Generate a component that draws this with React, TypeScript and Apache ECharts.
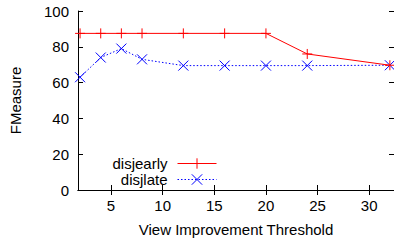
import React, { useEffect, useRef } from "react";
import * as echarts from "echarts";

const xValues = [2, 4, 6, 8, 12, 16, 20, 24, 32];
const disjearly = [87.5, 87.5, 87.5, 87.5, 87.5, 87.5, 87.5, 76, 69.7];
const disjlate = [63, 74, 79, 73, 69.5, 69.5, 69.5, 69.5, 69.7];
const xTicks = [5, 10, 15, 20, 25, 30];
const yTicks = [0, 20, 40, 60, 80, 100];

const FONT = "Liberation Sans, Arial, Helvetica, sans-serif";
const PLUS = "path://M0,5L10,5M5,0L5,10";
const CROSS = "path://M0,0L10,10M10,0L0,10";
const DOTS = [1.5, 2];

export default function App() {
  const ref = useRef<HTMLDivElement>(null);
  useEffect(() => {
    const chart = echarts.init(ref.current!, null, { renderer: "svg" });
    const axisCommon = {
      axisLine: { show: true, lineStyle: { color: "#000", width: 1 } },
      axisTick: { show: true, inside: true, length: 5, lineStyle: { color: "#000" } },
      splitLine: { show: false },
    };
    const legendCommon = {
      right: 177,
      padding: 0,
      align: "right",
      itemWidth: 39,
      itemHeight: 13,
      itemStyle: { borderWidth: 1 },
      textStyle: { color: "#000", fontSize: 15, fontFamily: FONT, padding: [0, 5, 0, 0] },
    };
    chart.setOption({
      animation: false,
      backgroundColor: "#fff",
      textStyle: { fontFamily: FONT },
      grid: { left: 77, right: 0, top: 11, bottom: 52, containLabel: false },
      xAxis: [
        {
          type: "value",
          min: 1.8,
          max: 32.4,
          position: "bottom",
          ...axisCommon,
          axisTick: { ...axisCommon.axisTick, customValues: xTicks },
          axisLabel: { customValues: xTicks, color: "#000", fontSize: 15, fontFamily: FONT, margin: 8 },
          name: "View Improvement Threshold",
          nameLocation: "middle",
          nameGap: 32,
          nameTextStyle: { color: "#000", fontSize: 15, fontFamily: FONT },
        },
        {
          type: "value",
          min: 1.8,
          max: 32.4,
          position: "top",
          ...axisCommon,
          axisTick: { ...axisCommon.axisTick, customValues: xTicks },
          axisLabel: { show: false, customValues: xTicks },
        },
      ],
      yAxis: [
        {
          type: "value",
          min: 0,
          max: 100,
          interval: 20,
          position: "left",
          ...axisCommon,
          axisLabel: { color: "#000", fontSize: 15, fontFamily: FONT, margin: 9 },
          name: "FMeasure",
          nameLocation: "middle",
          nameRotate: 90,
          nameGap: 55,
          nameTextStyle: { color: "#000", fontSize: 15, fontFamily: FONT },
        },
        {
          type: "value",
          min: 0,
          max: 100,
          interval: 20,
          position: "right",
          ...axisCommon,
          axisLabel: { show: false },
        },
      ],
      legend: [
        { ...legendCommon, data: ["disjearly"], top: 156, lineStyle: { width: 1, type: "solid" } },
        { ...legendCommon, data: ["disjlate"], top: 172, lineStyle: { width: 1, type: DOTS } },
      ],
      series: [
        {
          name: "disjearly",
          type: "line",
          data: xValues.map((x, i) => [x, disjearly[i]]),
          symbol: PLUS,
          symbolSize: 10,
          lineStyle: { color: "#ff0000", width: 1, type: "solid" },
          itemStyle: { color: "#ff0000", borderColor: "#ff0000", borderWidth: 1 },
          z: 3,
        },
        {
          name: "disjlate",
          type: "line",
          data: xValues.map((x, i) => [x, disjlate[i]]),
          symbol: CROSS,
          symbolSize: 10,
          lineStyle: { color: "#0000ff", width: 1, type: DOTS },
          itemStyle: { color: "#0000ff", borderColor: "#0000ff", borderWidth: 1 },
          z: 2,
        },
      ],
    });
    return () => chart.dispose();
  }, []);
  return <div ref={ref} style={{ width: 394, height: 242, position: "absolute", left: 0, top: 0 }} />;
}
